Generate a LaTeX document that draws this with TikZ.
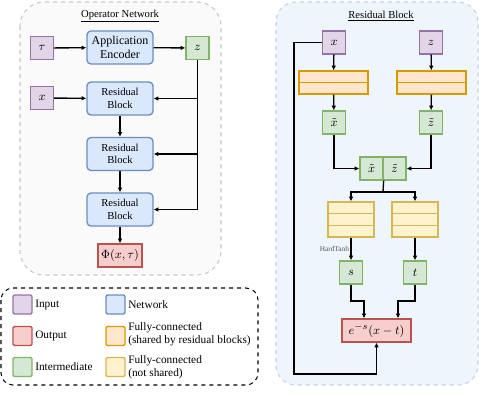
\documentclass[tikz,border=0pt]{standalone}
\usepackage{fontspec}
\setmainfont{Liberation Serif}
\usetikzlibrary{arrows.meta,calc}

\definecolor{inpfill}{HTML}{E1D5E7}\definecolor{inpdraw}{HTML}{9673A6}
\definecolor{netfill}{HTML}{DAE8FC}\definecolor{netdraw}{HTML}{6C8EBF}
\definecolor{midfill}{HTML}{D5E8D4}\definecolor{middraw}{HTML}{82B366}
\definecolor{outfill}{HTML}{F8CECC}\definecolor{outdraw}{HTML}{B85450}
\definecolor{fcsfill}{HTML}{FFE6CC}\definecolor{fcsdraw}{HTML}{D79B00}
\definecolor{fcnfill}{HTML}{FFF2CC}\definecolor{fcndraw}{HTML}{D6B656}
\definecolor{panelfill}{HTML}{FAFAFA}\definecolor{paneldraw}{HTML}{C8C8C8}
\definecolor{rbfill}{HTML}{EEF5FD}\definecolor{rbdraw}{HTML}{C3D3EA}

\tikzset{
  box/.style={draw, line width=1pt, inner sep=0pt, align=center},
  sq/.style={box, minimum width=17.25pt, minimum height=17.25pt, font=\fontsize{9.5}{11}\selectfont},
  inp/.style={sq, fill=inpfill, draw=inpdraw},
  mid/.style={sq, fill=midfill, draw=middraw},
  netw/.style={box, rounded corners=3pt, fill=netfill, draw=netdraw, minimum width=49.5pt, minimum height=24.75pt},
  outp/.style={box, fill=outfill, draw=outdraw, minimum height=17.25pt, font=\fontsize{9.5}{11}\selectfont},
  fcs/.style={box, fill=fcsfill, draw=fcsdraw, minimum width=51.75pt, minimum height=17.25pt},
  fcn/.style={box, fill=fcnfill, draw=fcndraw, minimum width=34.5pt, minimum height=26.25pt},
  key/.style={box, rounded corners=1pt, minimum width=14.25pt, minimum height=14.25pt},
  keytext/.style={anchor=west, align=left, inner sep=0pt, font=\fontsize{8.5}{9.5}\selectfont},
  conn/.style={line width=1pt, -{Latex[length=3.5pt,width=3.5pt]}},
  wire/.style={line width=1pt},
}

\begin{document}
\begin{tikzpicture}[x=0.75pt,y=0.75pt,yscale=-1,xscale=1]
\useasboundingbox (0,0) rectangle (479,419);

%Panels
\draw [dashed, draw=paneldraw, fill=panelfill, rounded corners=18pt, line width=0.8pt] (20,2) rectangle (221,275);
\draw [dashed, draw=rbdraw, fill=rbfill, rounded corners=15pt, line width=0.8pt] (276,2) rectangle (478,385);
\draw [dashed, line width=0.8pt, rounded corners=9pt] (1,288) rectangle (258,385);

% Text Node
\node (optitle) at (120,16) [font=\fontsize{8}{9}\selectfont] {\underline{Operator Network}};
\node (rbtitle) at (381,16) [font=\fontsize{8}{9}\selectfont] {\underline{Residual Block}};

%Operator network
\node [inp] (tau) at (42,48) {$\tau$};
\node [netw, font=\fontsize{9}{10}\selectfont] (enc) at (120,47.5) {Application\\Encoder};
\node [mid] (zz) at (197.5,48) {$z$};
\node [inp] (xin) at (42,98) {$x$};
\node [netw, font=\fontsize{8}{9.5}\selectfont] (rba) at (120,98.5) {Residual\\Block};
\node [netw, font=\fontsize{8}{9.5}\selectfont] (rbb) at (120,154) {Residual\\Block};
\node [netw, font=\fontsize{8}{9.5}\selectfont] (rbc) at (120,209.5) {Residual\\Block};
\node [outp, minimum width=33pt] (phi) at (120,255.5) {$\Phi(x,\tau)$};

\draw [conn] (tau) -- (enc);
\draw [conn] (enc) -- (zz);
\draw [conn] (xin) -- (rba);
\draw [conn] (rba) -- (rbb);
\draw [conn] (rbb) -- (rbc);
\draw [conn] (rbc) -- (phi);
\draw [conn] (zz.south) |- (rbc.east);
\draw [conn] (zz.south |- rba.east) -- (rba.east);
\draw [conn] (zz.south |- rbb.east) -- (rbb.east);

%Residual block
\node [inp] (rx) at (334,42.5) {$x$};
\node [inp] (rz) at (431,42.5) {$z$};
\node [fcs] (fcx) at (333.5,82.5) {};
\node [fcs] (fcz) at (431.5,82.5) {};
\draw [fcsdraw, line width=1pt] (fcx.west) -- (fcx.east);
\draw [fcsdraw, line width=1pt] (fcz.west) -- (fcz.east);
\node [mid] (xt) at (334,122.5) {$\tilde{x}$};
\node [mid] (zt) at (431,122.5) {$\tilde{z}$};
\node [mid] (cx) at (371.5,168.5) {$\tilde{x}$};
\node [mid] (cz) at (394.5,168.5) {$\tilde{z}$};
\node [fcn] (fca) at (351,219.5) {};
\node [fcn] (fcb) at (415,219.5) {};
\foreach \f in {fca,fcb}{
  \draw [fcndraw, line width=1pt] ($(\f.north west)!1/3!(\f.south west)$) -- ($(\f.north east)!1/3!(\f.south east)$);
  \draw [fcndraw, line width=1pt] ($(\f.north west)!2/3!(\f.south west)$) -- ($(\f.north east)!2/3!(\f.south east)$);
}
\node [mid] (ss) at (351,272.5) {$s$};
\node [mid] (tt) at (415,272.5) {$t$};
\node [outp, minimum width=51.75pt] (ex) at (376.5,330.5) {$e^{-s}(x-t)$};

\coordinate (split) at (383,192);
\coordinate (sbend) at (364,301);
\coordinate (tbend) at (398,301);
\coordinate (skip) at (294,374);

\draw [conn] (rx) -- (fcx);
\draw [conn] (rz) -- (fcz);
\draw [conn] (fcx) -- (xt);
\draw [conn] (fcz) -- (zt);
\draw [conn] (xt.south) |- (cx.west);
\draw [conn] (zt.south) |- (cz.east);
\draw [wire] (cx.south east) -- (split);
\draw [conn] (split) -| (fca.north);
\draw [conn] (split) -| (fcb.north);
\draw [conn] (fca) -- node [left, inner sep=1pt, font=\fontsize{5.5}{6}\selectfont, gray!70!black] {HardTanh} (ss);
\draw [conn] (fcb) -- (tt);
\draw [conn] (ss.south) |- (sbend) -- (sbend |- ex.north);
\draw [conn] (tt.south) |- (tbend) -- (tbend |- ex.north);
\draw [conn] (rx.west) -| (skip) -| (ex.south);

%Legend
\node [key, fill=inpfill, draw=inpdraw] (kin) at (22.5,304.5) {};
\node [key, fill=outfill, draw=outdraw] (kout) at (22.5,336) {};
\node [key, fill=midfill, draw=middraw] (kmid) at (22.5,367) {};
\node [key, fill=netfill, draw=netdraw] (knet) at (115.5,304.5) {};
\node [key, fill=fcsfill, draw=fcsdraw] (kfcs) at (115.5,336) {};
\node [key, fill=fcnfill, draw=fcndraw] (kfcn) at (115.5,367) {};
\node [keytext] (tin) at (35,304.5) {Input};
\node [keytext] (tout) at (35,336) {Output};
\node [keytext] (tmid) at (35,367) {Intermediate};
\node [keytext] (tnet) at (128,304.5) {Network};
\node [keytext] (tfcs) at (128,334) {Fully-connected\\(shared by residual blocks)};
\node [keytext] (tfcn) at (128,367) {Fully-connected\\(not shared)};

\end{tikzpicture}
\end{document}
